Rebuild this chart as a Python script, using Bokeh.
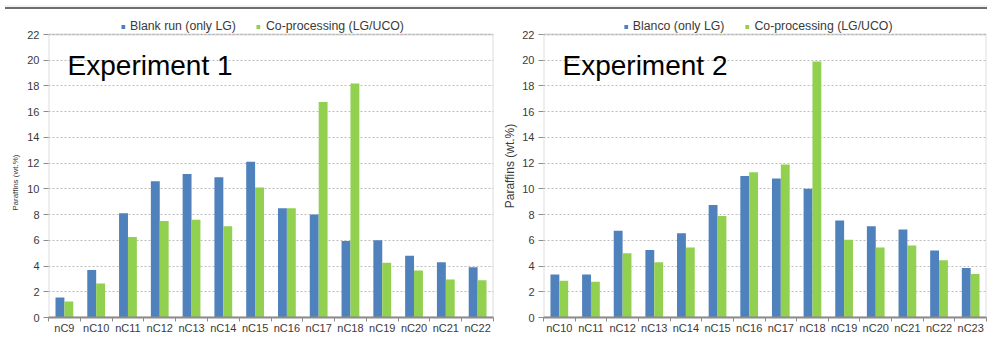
import numpy as np
from bokeh.plotting import figure
from bokeh.models import Range1d, FixedTicker, Label, Legend, LegendItem, Div, BoxAnnotation
from bokeh.layouts import row, column
from bokeh.embed import file_html
from bokeh.resources import INLINE

# ---- data ----
cats1 = ["nC9", "nC10", "nC11", "nC12", "nC13", "nC14", "nC15",
         "nC16", "nC17", "nC18", "nC19", "nC20", "nC21", "nC22"]
blank1 = [1.55, 3.7, 8.1, 10.6, 11.15, 10.9, 12.1, 8.5, 8.0, 5.95, 6.0, 4.8, 4.3, 3.9]
coproc1 = [1.25, 2.65, 6.25, 7.5, 7.6, 7.1, 10.1, 8.5, 16.75, 18.2, 4.25, 3.65, 2.95, 2.9]

cats2 = ["nC10", "nC11", "nC12", "nC13", "nC14", "nC15", "nC16",
         "nC17", "nC18", "nC19", "nC20", "nC21", "nC22", "nC23"]
blank2 = [3.35, 3.35, 6.75, 5.25, 6.55, 8.75, 11.0, 10.8, 10.0, 7.55, 7.1, 6.85, 5.2, 3.85]
coproc2 = [2.85, 2.78, 5.0, 4.3, 5.45, 7.9, 11.3, 11.9, 19.9, 6.05, 5.45, 5.6, 4.45, 3.38]

y_ticks = list(range(0, 23, 2))
Y_MAX = 22
legend1 = ["Blank run (only LG)", "Co-processing (LG/UCO)"]
legend2 = ["Blanco (only LG)", "Co-processing (LG/UCO)"]
titles = ["Experiment 1", "Experiment 2"]
y_label = "Paraffins (wt.%)"

FONT = "Liberation Sans"
BLUE = "#4f81bd"
GREEN = "#92d050"
FRAME = "#8c8c8c"
TXT = "#3a3a3a"
BG = "#f2f2ee"
EDGE = "#6e6e6e"

FIG_H = 331
BORDER_B = 28
AXIS_PX = 283          # pixel height of the 0..22 axis box
LEGEND_PX = 20         # strip above the box that holds the legend


def make_panel(cats, blank, coproc, labels, title, width, left_b, right_b,
               ylab, ylab_size, ylab_standoff, pad):
    n = len(cats)
    idx = np.arange(n)
    y_end = Y_MAX * (AXIS_PX + LEGEND_PX) / AXIS_PX
    p = figure(width=width, height=FIG_H,
               x_range=Range1d(-0.5, n - 0.5), y_range=Range1d(0, y_end),
               output_backend="svg", toolbar_location=None,
               min_border_left=left_b, min_border_right=right_b,
               min_border_top=0, min_border_bottom=BORDER_B)
    p.background_fill_color = "white"
    p.border_fill_color = "white"
    p.outline_line_color = None

    r1 = p.vbar(x=idx - 0.14, top=blank, width=0.28, fill_color=BLUE, line_color=None)
    r2 = p.vbar(x=idx + 0.14, top=coproc, width=0.28, fill_color=GREEN, line_color=None)

    p.xgrid.visible = False
    p.ygrid.grid_line_color = "#bdbdbd"
    p.ygrid.grid_line_dash = "2 2"
    p.ygrid.grid_line_width = 1

    # the plot box 0..22
    p.add_layout(BoxAnnotation(left=-0.5, right=n - 0.5, bottom=0, top=Y_MAX,
                               fill_alpha=0, line_color=FRAME, line_width=2))

    ya = p.yaxis[0]
    ya.ticker = FixedTicker(ticks=y_ticks)
    ya.axis_label = ylab
    ya.axis_label_text_font = FONT
    ya.axis_label_text_font_size = ylab_size
    ya.axis_label_text_font_style = "normal"
    ya.axis_label_text_color = TXT
    ya.axis_label_standoff = ylab_standoff
    ya.major_label_text_font = FONT
    ya.major_label_text_font_size = "11px"
    ya.major_label_text_color = TXT
    ya.major_label_standoff = 4
    ya.major_tick_out = 5
    ya.major_tick_in = 0
    ya.major_tick_line_color = FRAME
    ya.minor_tick_line_color = None
    ya.axis_line_color = None

    xa = p.xaxis[0]
    xa.ticker = FixedTicker(ticks=[int(i) for i in idx],
                            minor_ticks=[float(i) - 0.5 for i in range(n + 1)])
    xa.major_label_overrides = {int(i): c for i, c in zip(idx, cats)}
    xa.major_label_text_font = FONT
    xa.major_label_text_font_size = "11px"
    xa.major_label_text_color = TXT
    xa.major_label_standoff = 0
    xa.major_tick_line_color = None
    xa.major_tick_out = 0
    xa.major_tick_in = 0
    xa.minor_tick_out = 4
    xa.minor_tick_in = 0
    xa.minor_tick_line_color = FRAME
    xa.minor_tick_line_width = 1
    xa.axis_line_color = FRAME
    xa.axis_line_width = 2

    leg = Legend(items=[LegendItem(label=labels[0], renderers=[r1]),
                        LegendItem(label=labels[1] + "\u00a0" * pad, renderers=[r2])],
                 orientation="horizontal", location="top_center",
                 label_text_font=FONT, label_text_font_size="12.3px",
                 label_text_color=TXT, glyph_width=5, glyph_height=5,
                 label_height=5, label_width=5, label_standoff=5, spacing=20,
                 padding=0, margin=5, border_line_color=None,
                 background_fill_alpha=0)
    p.add_layout(leg)

    p.add_layout(Label(x=0.1, y=19.6, text=title, text_font=FONT,
                       text_font_size="28px", text_color="black",
                       text_baseline="alphabetic"))
    return p


# left panel's axis title is smaller and sits lower (padded with no-break spaces)
ylab1 = y_label + "\u00a0" * 15
p1 = make_panel(cats1, blank1, coproc1, legend1, titles[0], 497, 48, 4,
                ylab1, "8px", 4, 5)
p2 = make_panel(cats2, blank2, coproc2, legend2, titles[1], 490, 46, 1,
                y_label, "12px", 2, 4)

top = Div(text="", width=987, height=4,
          styles={"background-color": BG,
                  "border-bottom": "2px solid " + EDGE})

root = column(top, row(p1, p2))

open("out.html", "w").write(file_html(root, INLINE))
